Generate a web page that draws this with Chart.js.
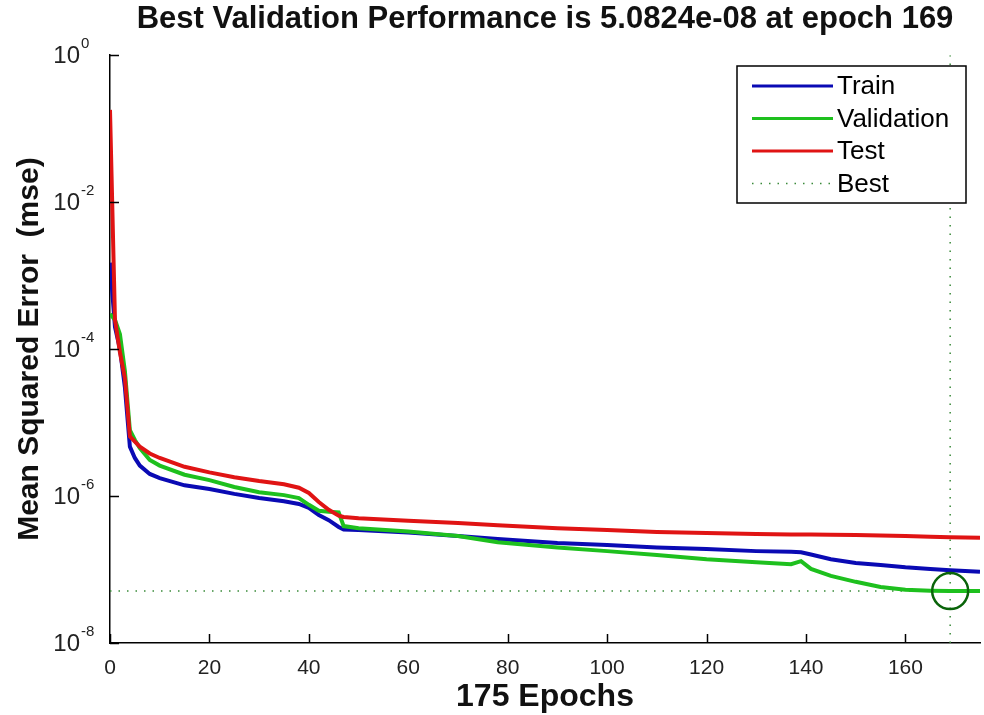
<!DOCTYPE html>
<html>
<head>
<meta charset="utf-8">
<script src="https://cdn.jsdelivr.net/npm/chart.js@4.4.1/dist/chart.umd.min.js"></script>
<style>
  html, body { margin: 0; padding: 0; background: #fff; overflow: hidden; }
  canvas { display: block; }
</style>
</head>
<body>
<canvas id="perf" width="984" height="715"></canvas>
<script>
const epochs = [0, 1, 2, 3, 4, 5, 6, 8, 10, 15, 20, 25, 30, 35, 38, 40, 42, 44, 46, 47, 50, 60, 70, 78, 90, 100, 110, 120, 130, 137, 139, 141, 145, 150, 155, 160, 165, 169, 175];

const trainMse = [1.5e-3, 2.0e-4, 1.0e-4, 3.0e-5, 4.7e-6, 3.3e-6, 2.6e-6, 2.0e-6, 1.75e-6, 1.4e-6, 1.25e-6, 1.07e-6, 9.4e-7, 8.5e-7, 7.8e-7, 6.9e-7, 5.5e-7, 4.7e-7, 3.8e-7, 3.5e-7, 3.45e-7, 3.2e-7, 2.85e-7, 2.6e-7, 2.3e-7, 2.15e-7, 2.0e-7, 1.9e-7, 1.78e-7, 1.74e-7, 1.72e-7, 1.6e-7, 1.38e-7, 1.23e-7, 1.15e-7, 1.07e-7, 1.02e-7, 9.8e-8, 9.3e-8];

const valMse = [3.0e-4, 2.5e-4, 1.6e-4, 5.0e-5, 7.9e-6, 5.8e-6, 4.5e-6, 3.1e-6, 2.6e-6, 1.95e-6, 1.65e-6, 1.33e-6, 1.13e-6, 1.03e-6, 9.4e-7, 7.6e-7, 6.3e-7, 6.1e-7, 6.0e-7, 3.9e-7, 3.65e-7, 3.3e-7, 2.85e-7, 2.35e-7, 2.0e-7, 1.78e-7, 1.58e-7, 1.38e-7, 1.26e-7, 1.18e-7, 1.3e-7, 1.02e-7, 8.2e-8, 6.8e-8, 5.8e-8, 5.3e-8, 5.15e-8, 5.0824e-8, 5.1e-8];

const testMse = [1.8e-1, 2.5e-4, 9.0e-5, 4.0e-5, 6.5e-6, 5.5e-6, 4.7e-6, 3.8e-6, 3.3e-6, 2.5e-6, 2.1e-6, 1.8e-6, 1.6e-6, 1.45e-6, 1.3e-6, 1.1e-6, 8.3e-7, 6.5e-7, 5.4e-7, 5.2e-7, 5.0e-7, 4.6e-7, 4.3e-7, 4.0e-7, 3.65e-7, 3.45e-7, 3.25e-7, 3.15e-7, 3.05e-7, 3.0e-7, 3.0e-7, 3.0e-7, 2.97e-7, 2.95e-7, 2.9e-7, 2.85e-7, 2.8e-7, 2.75e-7, 2.7e-7];

const bestEpoch = 169;
const bestPerf = 5.0824e-8;

const xTicks = [0, 20, 40, 60, 80, 100, 120, 140, 160];
const yTicks = [1e0, 1e-2, 1e-4, 1e-6, 1e-8];

const FONT = "'Liberation Sans', Arial, Helvetica, sans-serif";

const toPoints = ys => epochs.map((e, i) => ({ x: e, y: ys[i] }));

// inward tick marks, superscript y labels and the boxed legend
const matlabAxes = {
  id: "matlabAxes",
  afterDraw(chart) {
    const { ctx, chartArea: a, scales } = chart;
    const xs = scales.x, ys = scales.y;
    ctx.save();
    ctx.strokeStyle = "#000";
    ctx.lineWidth = 1.5;
    ctx.beginPath();
    xTicks.forEach(t => {
      const px = Math.round(xs.getPixelForValue(t)) + 0.5;
      ctx.moveTo(px, a.bottom);
      ctx.lineTo(px, a.bottom - 9);
    });
    yTicks.forEach(t => {
      const py = Math.round(ys.getPixelForValue(t)) + 0.5;
      ctx.moveTo(a.left, py);
      ctx.lineTo(a.left + 9, py);
    });
    ctx.stroke();

    // y labels: 10 with raised exponent
    ctx.fillStyle = "#222";
    yTicks.forEach(t => {
      const py = ys.getPixelForValue(t);
      const exp = Math.round(Math.log10(t));
      ctx.font = "24px " + FONT;
      ctx.textAlign = "right";
      ctx.textBaseline = "middle";
      ctx.fillText("10", 80, py + 1);
      ctx.font = "15px " + FONT;
      ctx.textAlign = "left";
      ctx.fillText(exp === 0 ? "0" : "-" + Math.abs(exp), 81, py - 11);
    });

    // legend
    const box = { x: 737, y: 66, w: 229, h: 137 };
    ctx.fillStyle = "#fff";
    ctx.fillRect(box.x, box.y, box.w, box.h);
    ctx.strokeStyle = "#000";
    ctx.lineWidth = 1.5;
    ctx.strokeRect(box.x, box.y, box.w, box.h);
    const items = chart.data.datasets.filter(d => d.inLegend);
    items.sort((p, q) => p.legendRank - q.legendRank);
    items.forEach((d, i) => {
      const ry = 86 + i * 32.5;
      ctx.beginPath();
      ctx.strokeStyle = d.borderColor;
      ctx.lineWidth = d.legendWidth;
      ctx.setLineDash(d.borderDash || []);
      ctx.moveTo(752, ry);
      ctx.lineTo(833, ry);
      ctx.stroke();
      ctx.setLineDash([]);
      ctx.fillStyle = "#000";
      ctx.font = "26px " + FONT;
      ctx.textAlign = "left";
      ctx.textBaseline = "middle";
      ctx.fillText(d.label, 837, ry + 1);
    });
    ctx.restore();
  }
};

new Chart(document.getElementById("perf"), {
  type: "line",
  data: {
    datasets: [
      {
        label: "Train", data: toPoints(trainMse), borderColor: "#0a0ab4",
        borderWidth: 4, order: 3, inLegend: true, legendRank: 0, legendWidth: 3
      },
      {
        label: "Validation", data: toPoints(valMse), borderColor: "#1ec01e",
        borderWidth: 4, order: 2, inLegend: true, legendRank: 1, legendWidth: 3
      },
      {
        label: "Test", data: toPoints(testMse), borderColor: "#e01414",
        borderWidth: 4, order: 1, inLegend: true, legendRank: 2, legendWidth: 3
      },
      {
        label: "Best", data: [{ x: 0, y: bestPerf }, { x: 175, y: bestPerf }],
        borderColor: "#3a8a3a", borderWidth: 1.5, borderDash: [1.5, 7], order: 4,
        inLegend: true, legendRank: 3, legendWidth: 1.5
      },
      {
        label: "BestEpoch", data: [{ x: bestEpoch, y: 1e-8 }, { x: bestEpoch, y: 1 }],
        borderColor: "#3a8a3a", borderWidth: 1.5, borderDash: [1.5, 7], order: 4
      },
      {
        label: "BestPoint", data: [{ x: bestEpoch, y: bestPerf }], showLine: false,
        pointRadius: 18, pointBorderWidth: 2.5, pointBorderColor: "#0a640a",
        pointBackgroundColor: "rgba(0,0,0,0)", borderColor: "#0a640a", order: 0
      }
    ]
  },
  options: {
    responsive: false,
    animation: false,
    layout: { autoPadding: false, padding: { left: 0, right: 4, top: 0, bottom: 0 } },
    elements: { line: { tension: 0 }, point: { radius: 0 } },
    plugins: {
      legend: { display: false },
      tooltip: { enabled: false },
      title: {
        display: true,
        fullSize: false,
        text: "Best Validation Performance is 5.0824e-08 at epoch 169",
        color: "#111",
        font: { family: FONT, size: 31, weight: "bold", lineHeight: 1.2 },
        padding: { top: 1, bottom: 17 }
      }
    },
    scales: {
      x: {
        type: "linear", min: 0, max: 175,
        afterBuildTicks: s => { s.ticks = xTicks.map(v => ({ value: v })); },
        afterFit: s => { s.height = 72; s.paddingLeft = 0; s.paddingRight = 0; },
        grid: { display: true, drawOnChartArea: false, drawTicks: false },
        border: { display: true, color: "#000", width: 1.5 },
        ticks: { color: "#222", padding: 13, maxRotation: 0, font: { family: FONT, size: 21 } },
        title: {
          display: true, text: "175 Epochs", color: "#111",
          font: { family: FONT, size: 32, weight: "bold", lineHeight: 1.0 },
          padding: { top: 0, bottom: 2 }
        }
      },
      y: {
        type: "logarithmic", min: 1e-8, max: 1,
        afterBuildTicks: s => { s.ticks = yTicks.map(v => ({ value: v })); },
        afterFit: s => { s.width = 110; },
        grid: { display: true, drawOnChartArea: false, drawTicks: false },
        border: { display: true, color: "#000", width: 1.5 },
        ticks: { display: false },
        title: {
          display: true, text: "Mean Squared Error  (mse)", color: "#111",
          font: { family: FONT, size: 30, weight: "bold", lineHeight: 1.2 },
          padding: { top: 12, bottom: 0 }
        }
      }
    }
  },
  plugins: [matlabAxes]
});
</script>
</body>
</html>
